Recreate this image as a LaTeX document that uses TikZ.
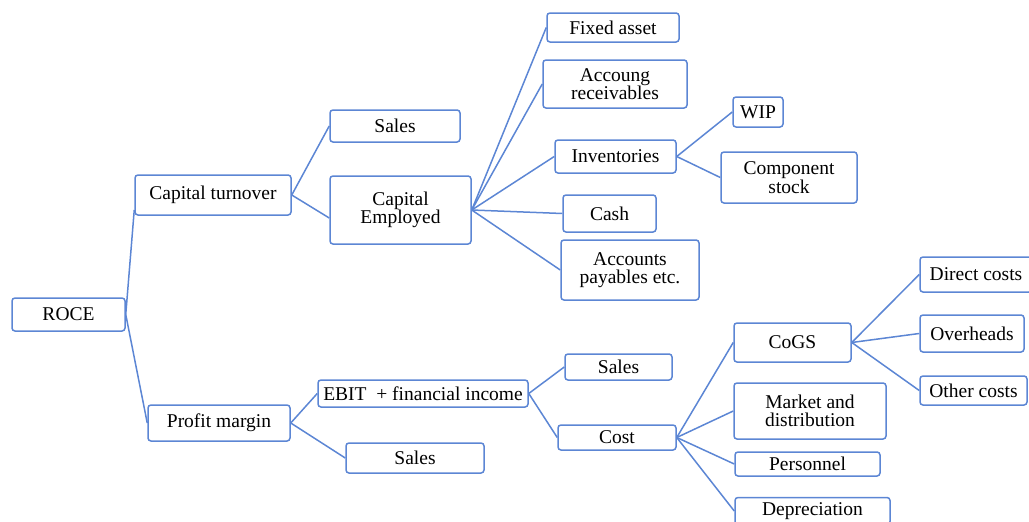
\documentclass[tikz,border=0pt]{standalone}
\usepackage{fontspec}
\setmainfont{Liberation Serif}
\definecolor{linkblue}{RGB}{92,134,212}
\begin{document}
\begin{tikzpicture}[x=1pt,y=-1pt,
  box/.style={draw=linkblue, line width=1.5pt, rounded corners=3pt,
    inner sep=0pt, align=center, text=black,
    font=\fontsize{19.5}{18.5}\selectfont},
  link/.style={draw=linkblue, line width=1.5pt}]
\useasboundingbox (0,0) rectangle (1029,522);

% root and first level
\node[box, minimum width=113pt, minimum height=33pt] (roce) at (68.5,314.5) {ROCE};
\node[box, minimum width=156pt, minimum height=40pt] (ct) at (213,195) {Capital turnover};
\node[box, minimum width=142pt, minimum height=36pt] (pm) at (219,423) {Profit margin};

% capital turnover branch
\node[box, minimum width=130pt, minimum height=32pt] (salesA) at (395,126) {Sales};
\node[box, minimum width=141pt, minimum height=68pt] (ce) at (400.5,210) {Capital\\Employed};
\node[box, minimum width=132pt, minimum height=29pt] (fa) at (613,27.5) {Fixed asset};
\node[box, minimum width=144pt, minimum height=48pt] (ar) at (615,84) {Accoung\\receivables};
\node[box, minimum width=121pt, minimum height=33pt] (inv) at (615.5,156.5) {Inventories};
\node[box, minimum width=50pt, minimum height=30pt] (wip) at (758,112) {WIP};
\node[box, minimum width=136pt, minimum height=51pt] (cs) at (789,177.5) {Component\\stock};
\node[box, minimum width=93pt, minimum height=37pt] (cash) at (609.5,213.5) {Cash};
\node[box, minimum width=138pt, minimum height=60pt] (ap) at (630,270) {Accounts\\payables etc.};

% profit margin branch
\node[box, minimum width=210pt, minimum height=27pt] (ebit) at (423,393.5) {EBIT\ \ + financial income};
\node[box, minimum width=138pt, minimum height=30pt] (salesC) at (415,458) {Sales};
\node[box, minimum width=107pt, minimum height=26pt] (salesB) at (618.5,367) {Sales};
\node[box, minimum width=118pt, minimum height=25pt] (cost) at (617,437.5) {Cost};
\node[box, minimum width=117pt, minimum height=39pt] (cogs) at (792.5,342.5) {CoGS};
\node[box, minimum width=152pt, minimum height=56pt] (md) at (810,411) {Market and\\distribution};
\node[box, minimum width=145pt, minimum height=24pt] (pers) at (807.5,464) {Personnel};
\node[box, minimum width=155pt, minimum height=27pt] (dep) at (812.5,511) {Depreciation};
\node[box, minimum width=112pt, minimum height=35pt] (dc) at (976,274.5) {Direct costs};
\node[box, minimum width=104pt, minimum height=37pt] (oh) at (972,333.5) {Overheads};
\node[box, minimum width=107pt, minimum height=29pt] (oc) at (973.5,390.5) {Other costs};

% connectors
\draw[link] (roce.east) -- ([yshift=-15pt]ct.west);
\draw[link] (roce.east) -- (pm.west);
\draw[link] (ct.east) -- (salesA.west);
\draw[link] (ct.east) -- ([yshift=-8pt]ce.west);
\foreach \c in {fa,ar,inv,cash,ap} \draw[link] (ce.east) -- (\c.west);
\draw[link] (inv.east) -- (wip.west);
\draw[link] (inv.east) -- (cs.west);
\draw[link] (pm.east) -- (ebit.west);
\draw[link] (pm.east) -- (salesC.west);
\draw[link] (ebit.east) -- (salesB.west);
\draw[link] (ebit.east) -- (cost.west);
\foreach \c in {cogs,md,pers,dep} \draw[link] (cost.east) -- (\c.west);
\foreach \c in {dc,oh,oc} \draw[link] (cogs.east) -- (\c.west);
\end{tikzpicture}
\end{document}
